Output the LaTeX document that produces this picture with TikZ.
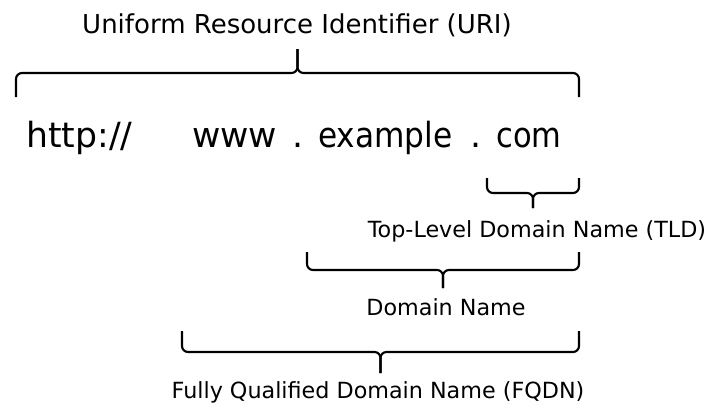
\documentclass[tikz,border=0pt]{standalone}
\usepackage{fontspec}
\setmainfont{DejaVu Sans}
\usepackage{tikz}

\tikzset{
  bracestroke/.style={line width=1.6pt, rounded corners=4.5pt},
  urlword/.style={anchor=base west, inner sep=0pt, font=\fontsize{26}{30}\selectfont},
  urldot/.style={anchor=base, inner sep=0pt, font=\fontsize{26}{30}\selectfont},
  partname/.style={anchor=base, inner sep=0pt, font=\fontsize{16.7}{20}\selectfont},
}
% #1 left x, #2 right x, #3 end y, #4 bar y
\newcommand{\spanbrace}[4]{%
  \draw[bracestroke] (#1,#3) |- ({(#1+#2)/2},#4) -- ({(#1+#2)/2},{2*#4-#3});
  \draw[bracestroke] (#2,#3) |- ({(#1+#2)/2},#4) -- ({(#1+#2)/2},{2*#4-#3});
}

\begin{document}
\begin{tikzpicture}[x=0.75pt,y=0.75pt,yscale=-1,xscale=1]
\useasboundingbox (0,0) rectangle (715,404);
%URL
\node[urlword] (http) at (26,147) {http://};
\node[urlword] (www) at (192,147) {www};
\node[urldot] (dotA) at (298,147) {.};
\node[urlword, xscale=0.9] (example) at (318,147) {example};
\node[urldot] (dotB) at (476,147) {.};
\node[urlword, xscale=0.88] (com) at (496,147) {com};
%括号
\spanbrace{16}{579}{97}{73}%URI
\spanbrace{487}{579}{178}{193}%TLD
\spanbrace{307}{579}{252}{270}%域名
\spanbrace{182}{579}{331}{352}%FQDN
%Text
\node[partname, font=\fontsize{19.5}{23}\selectfont] (uri) at (297,33.5) {Uniform Resource Identifier (URI)};
\node[partname] (tld) at (537,237.5) {Top-Level Domain Name (TLD)};
\node[partname] (domain) at (446,315) {Domain Name};
\node[partname] (fqdn) at (378,398) {Fully Qualified Domain Name (FQDN)};
\end{tikzpicture}
\end{document}
